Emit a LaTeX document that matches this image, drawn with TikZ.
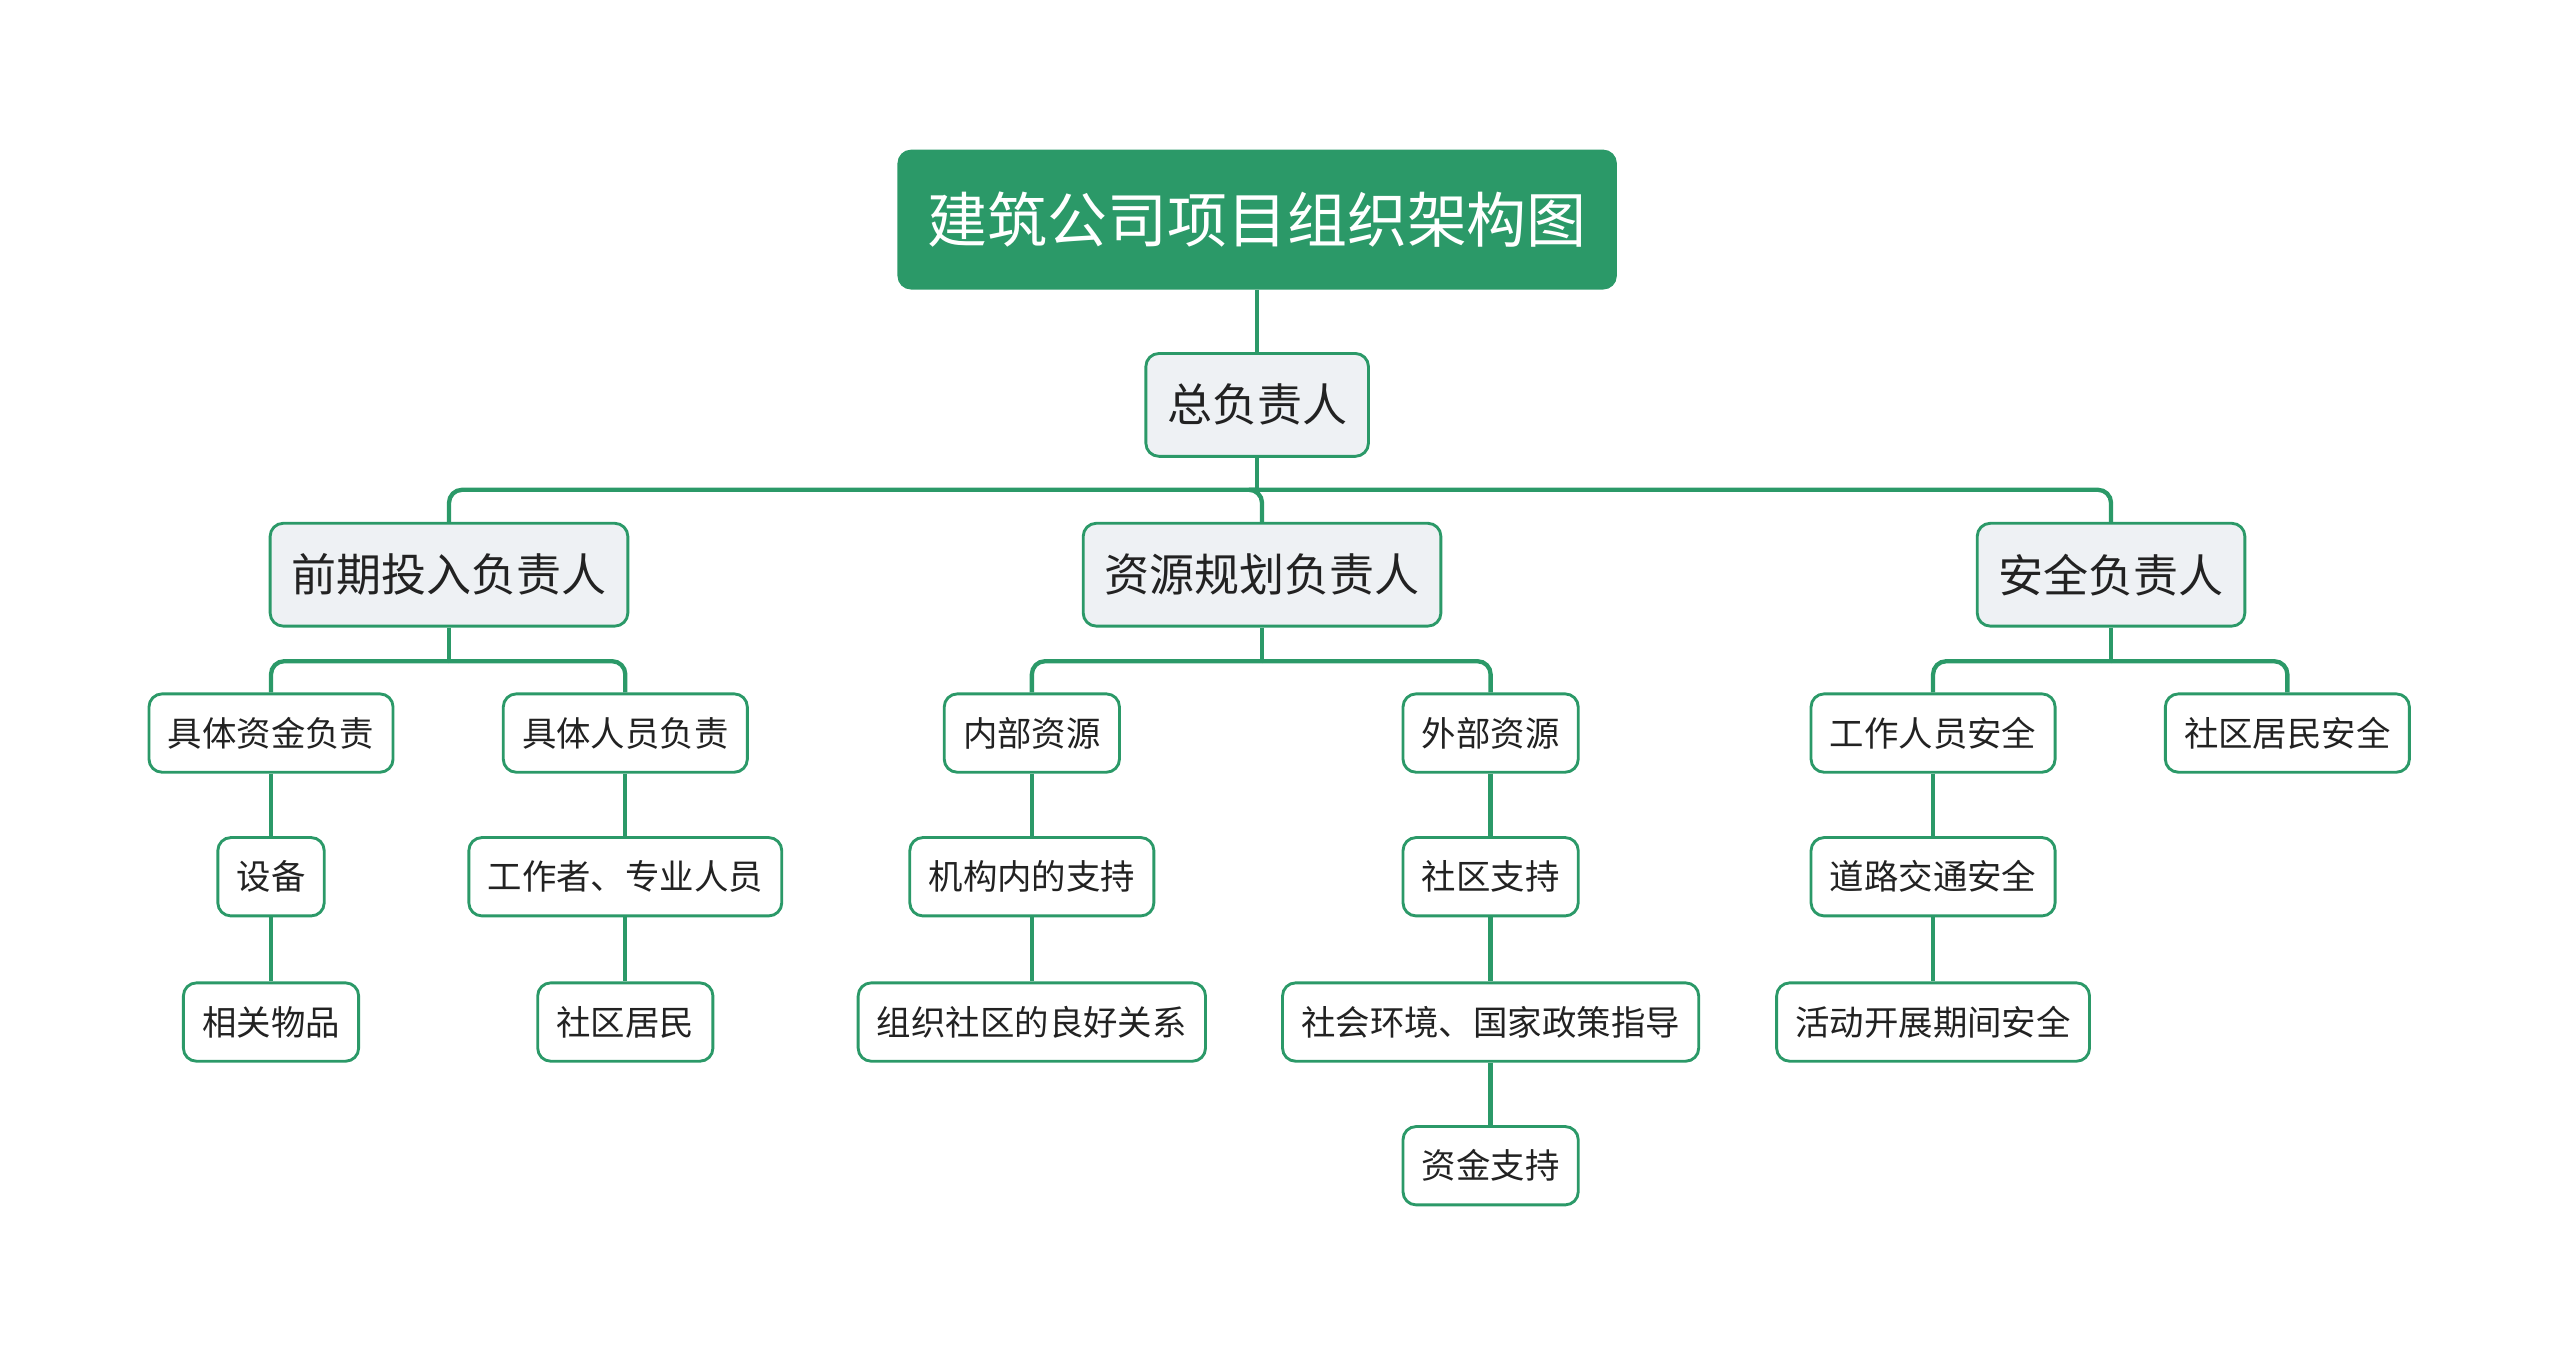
\documentclass[tikz,border=0pt]{standalone}
\usepackage{fontspec}
\newfontfamily\cjk{Noto Sans CJK SC}
\definecolor{treegreen}{HTML}{2B9968}
\definecolor{softgray}{HTML}{EEF1F4}
\definecolor{inkdark}{HTML}{222222}

\begin{document}
\begin{tikzpicture}[x=0.02cm,y=-0.02cm,
	link/.style={draw=treegreen,line width=1.5pt,rounded corners=0.16cm},
	rootbox/.style={rectangle,rounded corners=0.16cm,draw=treegreen,fill=treegreen,text=white,font=\cjk\fontsize{20.9}{25}\selectfont,inner xsep=0.36cm,inner ysep=0pt,minimum height=1.7cm},
	headbox/.style={rectangle,rounded corners=0.16cm,draw=treegreen,line width=1pt,fill=softgray,text=inkdark,font=\cjk\fontsize{15.7}{19}\selectfont,inner xsep=0.26cm,inner ysep=0pt,minimum height=1.26cm},
	itembox/.style={rectangle,rounded corners=0.16cm,draw=treegreen,line width=1pt,fill=white,text=inkdark,font=\cjk\fontsize{12}{15}\selectfont,inner xsep=0.23cm,inner ysep=0pt,minimum height=0.96cm}]
	\useasboundingbox (0,0) rectangle (1568,831);

	% top
	\node[rootbox] (root) at (770,134.5) {建筑公司项目组织架构图};
	\node[headbox] (chief) at (770,248) {总负责人};

	% second level
	\node[headbox] (pre) at (275,352) {前期投入负责人};
	\node[headbox] (mid) at (773,352) {资源规划负责人};
	\node[headbox] (safe) at (1293,352) {安全负责人};

	% third level
	\node[itembox] (fund) at (166,449) {具体资金负责};
	\node[itembox] (staff) at (383,449) {具体人员负责};
	\node[itembox] (inner) at (632,449) {内部资源};
	\node[itembox] (outer) at (913,449) {外部资源};
	\node[itembox] (worker) at (1184,449) {工作人员安全};
	\node[itembox] (resident) at (1401,449) {社区居民安全};

	% chains below
	\node[itembox] (equip) at (166,537) {设备};
	\node[itembox] (goods) at (166,626) {相关物品};
	\node[itembox] (pros) at (383,537) {工作者、专业人员};
	\node[itembox] (locals) at (383,626) {社区居民};
	\node[itembox] (support) at (632,537) {机构内的支持};
	\node[itembox] (relation) at (632,626) {组织社区的良好关系};
	\node[itembox] (commsup) at (913,537) {社区支持};
	\node[itembox] (environ) at (913,626) {社会环境、国家政策指导};
	\node[itembox] (money) at (913,714) {资金支持};
	\node[itembox] (road) at (1184,537) {道路交通安全};
	\node[itembox] (event) at (1184,626) {活动开展期间安全};

	% junctions
	\coordinate (j0) at (770,300);
	\coordinate (j1) at (275,405);
	\coordinate (j2) at (773,405);
	\coordinate (j3) at (1293,405);

	\draw[link] (root) -- (chief);
	\draw[link] (chief.south) -- (j0);
	\draw[link] (j0) -| (pre.north);
	\draw[link] (j0) -| (mid.north);
	\draw[link] (j0) -| (safe.north);

	\draw[link] (pre.south) -- (j1);
	\draw[link] (j1) -| (fund.north);
	\draw[link] (j1) -| (staff.north);
	\draw[link] (mid.south) -- (j2);
	\draw[link] (j2) -| (inner.north);
	\draw[link] (j2) -| (outer.north);
	\draw[link] (safe.south) -- (j3);
	\draw[link] (j3) -| (worker.north);
	\draw[link] (j3) -| (resident.north);

	\draw[link] (fund) -- (equip);
	\draw[link] (equip) -- (goods);
	\draw[link] (staff) -- (pros);
	\draw[link] (pros) -- (locals);
	\draw[link] (inner) -- (support);
	\draw[link] (support) -- (relation);
	\draw[link] (outer) -- (commsup);
	\draw[link] (commsup) -- (environ);
	\draw[link] (environ) -- (money);
	\draw[link] (worker) -- (road);
	\draw[link] (road) -- (event);
\end{tikzpicture}
\end{document}
